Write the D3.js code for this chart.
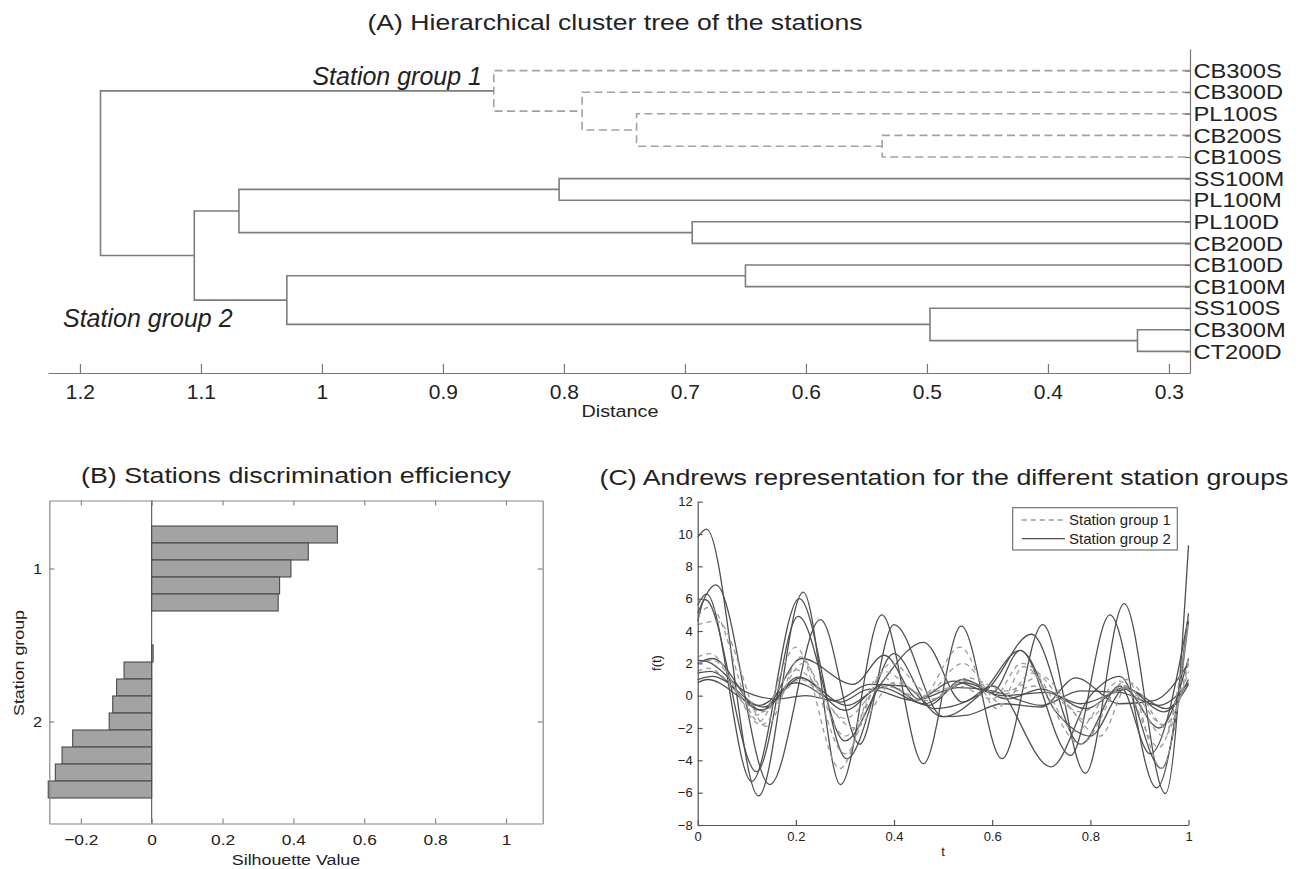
<!DOCTYPE html>
<html>
<head>
<meta charset="utf-8">
<script src="https://cdn.jsdelivr.net/npm/d3@7"></script>
<style>
  body { margin: 0; background: #fff; }
  svg { display: block; font-family: "Liberation Sans", Arial, Helvetica, sans-serif; }
</style>
</head>
<body>
<svg id="fig" width="1302" height="869"></svg>
<script>
// ---- (A) dendrogram data ----
const leafNames = ["CB300S", "CB300D", "PL100S", "CB200S", "CB100S", "SS100M", "PL100M",
    "PL100D", "CB200D", "CB100D", "CB100M", "SS100S", "CB300M", "CT200D"];
// children: leaf index (0-13) or merge id (14 + k)
const mergePairs = [[3, 4], [2, 14], [1, 15], [0, 16], [12, 13], [11, 18], [9, 10],
    [7, 8], [5, 6], [20, 19], [22, 21], [24, 23], [17, 25]];
const mergeHeights = [0.537, 0.740, 0.785, 0.858, 0.326, 0.4975, 0.650,
    0.694, 0.804, 1.029, 1.0686, 1.1055, 1.183];
const mergeGroup = [1, 1, 1, 1, 2, 2, 2, 2, 2, 2, 2, 2, 0];
const distTicks = [1.2, 1.1, 1, 0.9, 0.8, 0.7, 0.6, 0.5, 0.4, 0.3];

// ---- (B) silhouette data ----
const silGroup1 = [0.524, 0.442, 0.393, 0.361, 0.357];
const silGroup2 = [0.004, -0.078, -0.099, -0.110, -0.120, -0.223, -0.253, -0.272, -0.292];
const silTicks = [-0.2, 0, 0.2, 0.4, 0.6, 0.8, 1];
const groupNames = ["1", "2"];

// ---- (C) Andrews curves, knots [t, f(t)] ----
const andrewsGroup1 = [
    [[0, 4.9], [0.025, 5.5], [0.125, -1.6], [0.2, 3.0], [0.29, -4.5], [0.37, 1.2], [0.45, -0.3], [0.535, 3.0], [0.61, -0.8], [0.665, 1.8], [0.78, -3.0], [0.875, 1.0], [0.945, -4.5], [1, 4.9]],
    [[0, 4.4], [0.04, 4.6], [0.14, -1.9], [0.21, 2.4], [0.3, -3.6], [0.38, 1.5], [0.46, 0.0], [0.54, 2.0], [0.62, -0.5], [0.68, 1.4], [0.77, -2.2], [0.86, 0.9], [0.94, -3.2], [1, 4.4]],
    [[0, 2.4], [0.025, 2.6], [0.12, -1.2], [0.2, 1.6], [0.32, -2.0], [0.4, 0.8], [0.48, -0.2], [0.55, 1.1], [0.63, 0.3], [0.7, 1.2], [0.79, -1.5], [0.87, 0.5], [0.95, -2.5], [1, 2.3]],
    [[0, 1.5], [0.02, 1.7], [0.13, -1.0], [0.21, 1.0], [0.3, -1.4], [0.38, 0.6], [0.47, -0.3], [0.54, 0.9], [0.62, 0.1], [0.69, 0.6], [0.78, -1.0], [0.87, 0.6], [0.95, -1.8], [1, 1.5]],
    [[0, 2.0], [0.03, 2.2], [0.13, -1.8], [0.215, 2.0], [0.3, -2.5], [0.395, 2.0], [0.47, 0.2], [0.53, 0.6], [0.6, -0.2], [0.66, 2.0], [0.75, -0.5], [0.82, -2.5], [0.88, 0.8], [0.955, -2.0], [1, 2.0]]
];
const andrewsGroup2 = [
    [[0, 9.8], [0.018, 10.3], [0.124, -6.2], [0.215, 6.4], [0.291, -5.5], [0.375, 5.0], [0.46, -4.2], [0.537, 4.3], [0.62, -3.9], [0.703, 4.4], [0.79, -4.8], [0.869, 5.7], [0.953, -6.05], [1, 9.3]],
    [[0, 5.1], [0.037, 6.85], [0.147, -5.5], [0.25, 4.7], [0.33, -3.0], [0.4, 4.4], [0.5, -1.3], [0.58, 0.2], [0.657, 2.8], [0.76, -3.7], [0.84, 5.0], [0.935, -5.7], [1, 5.1]],
    [[0, 5.6], [0.018, 6.3], [0.11, -5.3], [0.207, 6.0], [0.304, -3.9], [0.4, 2.6], [0.48, -0.8], [0.59, 0.4], [0.68, 3.8], [0.78, -3.0], [0.86, 0.6], [0.922, -3.6], [1, 4.9]],
    [[0, 4.6], [0.015, 5.95], [0.12, -4.7], [0.205, 4.9], [0.3, -2.8], [0.375, 0.8], [0.46, 3.3], [0.54, -0.4], [0.6, 0.6], [0.72, -4.4], [0.8, 0.0], [0.86, 1.2], [0.945, -4.5], [1, 4.6]],
    [[0, 2.0], [0.03, 2.3], [0.13, -0.9], [0.212, 2.3], [0.317, 0.7], [0.38, 2.5], [0.45, -0.2], [0.52, 0.9], [0.6, 0.2], [0.657, 2.8], [0.73, -1.0], [0.8, -2.5], [0.87, 0.4], [0.94, -2.0], [1, 2.3]],
    [[0, 1.4], [0.025, 1.5], [0.13, -0.9], [0.21, 1.1], [0.3, -0.9], [0.38, 0.7], [0.47, -0.6], [0.54, 1.0], [0.63, -0.2], [0.7, 0.4], [0.79, -0.8], [0.87, 0.5], [0.95, -1.0], [1, 0.7]],
    [[0, 1.0], [0.03, 1.2], [0.135, -0.7], [0.205, 1.15], [0.305, -0.6], [0.375, 0.5], [0.46, -0.5], [0.545, 0.8], [0.62, 0.0], [0.71, 0.2], [0.78, -0.5], [0.875, 0.4], [0.955, -0.8], [1, 1.0]],
    [[0, 0.8], [0.02, 1.0], [0.125, -0.6], [0.2, 0.8], [0.29, -0.4], [0.35, 0.4], [0.44, -0.3], [0.53, 0.5], [0.6, 0.3], [0.7, -0.6], [0.78, 0.3], [0.86, 0.2], [0.94, -0.6], [1, 0.8]],
    [[0, 2.2], [0.02, 2.1], [0.1, 0.2], [0.16, -0.2], [0.22, 0.0], [0.28, -0.3], [0.35, 0.7], [0.42, 0.6], [0.5, -1.3], [0.55, -1.2], [0.62, -0.5], [0.7, -0.7], [0.77, 1.1], [0.86, -0.5], [0.93, -0.3], [1, 2.0]]
];
const andrewsXTicks = [0, 0.2, 0.4, 0.6, 0.8, 1];
const andrewsYTicks = [-8, -6, -4, -2, 0, 2, 4, 6, 8, 10, 12];
const legendNames = ["Station group 1", "Station group 2"];

const INK = "#222";
const svg = d3.select("#fig");
svg.append("rect").attr("width", 1302).attr("height", 869).attr("fill", "#fff");

// text helper, sx stretches glyphs horizontally like the scanned figure
function label(g, x, y, s, size, o = {}) {
    const rot = o.rot ? ` rotate(${o.rot})` : "";
    return g.append("text")
        .attr("transform", `translate(${x},${y})${rot} scale(${o.sx || 1},1)`)
        .attr("font-size", size)
        .attr("text-anchor", o.anchor || "start")
        .attr("font-style", o.italic ? "italic" : null)
        .attr("fill", INK)
        .text(s);
}

function styleAxis(ax, size, sx, col) {
    ax.select(".domain").attr("stroke", col).attr("stroke-width", 1.2);
    ax.selectAll(".tick line").attr("stroke", col).attr("stroke-width", 1.2);
    ax.selectAll(".tick text").attr("font-size", size).attr("fill", INK)
        .attr("font-family", null).attr("transform", `scale(${sx},1)`);
    ax.attr("font-family", null);
}

// ================= (A) =================
const gA = svg.append("g");
const xA = d3.scaleLinear().domain([1.2264, 0.2826]).range([48, 1190]).clamp(true);
const yA = d3.scaleLinear().domain([0, 15]).range([49, 373]);

const nodePos = leafNames.map((_, i) => i + 1);
const nodeH = leafNames.map(() => 0);
mergePairs.forEach(([a, b], k) => {
    nodePos.push((nodePos[a] + nodePos[b]) / 2);
    nodeH.push(mergeHeights[k]);
});

mergePairs.forEach(([a, b], k) => {
    const dashed = mergeGroup[k] === 1;
    gA.append("path")
        .attr("d", `M${xA(nodeH[a])},${yA(nodePos[a])}H${xA(mergeHeights[k])}V${yA(nodePos[b])}H${xA(nodeH[b])}`)
        .attr("fill", "none")
        .attr("stroke", dashed ? "#a2a2a2" : "#7e7e7e")
        .attr("stroke-width", 1.6)
        .attr("stroke-dasharray", dashed ? "8,4.5" : null);
});

const axA = gA.append("g").attr("transform", `translate(0,${yA(15)})`)
    .call(d3.axisBottom(xA).tickValues(distTicks).tickSize(-9).tickSizeOuter(0)
        .tickPadding(12).tickFormat(d3.format("")));
styleAxis(axA, 20, 1.05, "#777");

const axA2 = gA.append("g").attr("transform", `translate(${xA.range()[1]},0)`)
    .call(d3.axisRight(yA).tickValues(d3.range(1, leafNames.length + 1))
        .tickFormat(i => leafNames[i - 1]).tickSize(-5).tickSizeOuter(0).tickPadding(3));
styleAxis(axA2, 21, 1.13, "#777");

label(gA, 615, 30, "(A) Hierarchical cluster tree of the stations", 22, { anchor: "middle" })
    .attr("textLength", 495).attr("lengthAdjust", "spacingAndGlyphs");
label(gA, 620, 417, "Distance", 16.5, { anchor: "middle", sx: 1.2 });
label(gA, 482, 85, "Station group 1", 25, { anchor: "end", italic: true });
label(gA, 63, 327, "Station group 2", 25, { italic: true });

// ================= (B) =================
const gB = svg.append("g");
const xB = d3.scaleLinear().domain([-0.289, 1.1036]).range([49.3, 542.7]);
const yB = d3.scaleLinear().domain([-1, 18]).range([500.5, 823.5]);
const slotH = yB(1) - yB(0);
const gap = 2;
const bars = silGroup1.map((v, i) => ({ v, slot: i + 1 }))
    .concat(silGroup2.map((v, i) => ({ v, slot: silGroup1.length + gap + 1 + i })));
const groupSlots = [
    d3.mean(silGroup1, (_, i) => i + 1),
    d3.mean(silGroup2, (_, i) => silGroup1.length + gap + 1 + i)
];

gB.append("line").attr("x1", xB(0)).attr("x2", xB(0))
    .attr("y1", yB.range()[0]).attr("y2", yB.range()[1])
    .attr("stroke", "#444").attr("stroke-width", 1);

gB.selectAll("rect.bar").data(bars).enter().append("rect").attr("class", "bar")
    .attr("x", d => xB(Math.min(0, d.v)))
    .attr("y", d => yB(d.slot) - slotH / 2)
    .attr("width", d => Math.abs(xB(d.v) - xB(0)))
    .attr("height", slotH)
    .attr("fill", "#a3a3a3").attr("stroke", "#4a4a4a").attr("stroke-width", 1.1);

const axB1 = gB.append("g").attr("transform", `translate(0,${yB.range()[1]})`)
    .call(d3.axisBottom(xB).tickValues(silTicks).tickSize(-5).tickSizeOuter(0)
        .tickPadding(10).tickFormat(d3.format("")));
styleAxis(axB1, 15.5, 1.12, "#888");
const axB2 = gB.append("g").attr("transform", `translate(0,${yB.range()[0]})`)
    .call(d3.axisTop(xB).tickValues(silTicks).tickSize(-5).tickSizeOuter(0).tickFormat(""));
styleAxis(axB2, 15.5, 1, "#888");
const axB3 = gB.append("g").attr("transform", `translate(${xB.range()[0]},0)`)
    .call(d3.axisLeft(yB).tickValues(groupSlots).tickSize(-5).tickSizeOuter(0)
        .tickPadding(7).tickFormat((d, i) => groupNames[i]));
styleAxis(axB3, 15.5, 1.05, "#888");
const axB4 = gB.append("g").attr("transform", `translate(${xB.range()[1]},0)`)
    .call(d3.axisRight(yB).tickValues(groupSlots).tickSize(-5).tickSizeOuter(0).tickFormat(""));
styleAxis(axB4, 15.5, 1, "#888");

label(gB, 296, 483, "(B) Stations discrimination efficiency", 22, { anchor: "middle" })
    .attr("textLength", 430).attr("lengthAdjust", "spacingAndGlyphs");
label(gB, 296, 865, "Silhouette Value", 15.5, { anchor: "middle", sx: 1.15 });
label(gB, 24, 663, "Station group", 15.5, { anchor: "middle", rot: -90, sx: 1.15 });

// ================= (C) =================
const gC = svg.append("g");
const xC = d3.scaleLinear().domain([0, 1]).range([697.7, 1188.5]);
const yC = d3.scaleLinear().domain([-8, 12]).range([825, 501.7]);
const line = d3.line().x(d => xC(d[0])).y(d => yC(d[1])).curve(d3.curveMonotoneX);

gC.selectAll("path.g2").data(andrewsGroup2).enter().append("path").attr("class", "g2")
    .attr("d", line).attr("fill", "none")
    .attr("stroke", "#505050").attr("stroke-width", 1.3);
gC.selectAll("path.g1").data(andrewsGroup1).enter().append("path").attr("class", "g1")
    .attr("d", line).attr("fill", "none")
    .attr("stroke", "#9a9a9a").attr("stroke-width", 1.3).attr("stroke-dasharray", "5,4");

const axC1 = gC.append("g").attr("transform", `translate(0,${yC.range()[0]})`)
    .call(d3.axisBottom(xC).tickValues(andrewsXTicks).tickSize(-5).tickSizeOuter(0)
        .tickPadding(7).tickFormat(d3.format("")));
styleAxis(axC1, 13, 1, "#555");
const axC2 = gC.append("g").attr("transform", `translate(${xC.range()[0]},0)`)
    .call(d3.axisLeft(yC).tickValues(andrewsYTicks).tickSize(-5).tickSizeOuter(0)
        .tickPadding(5).tickFormat(d3.format("")));
styleAxis(axC2, 13, 1, "#555");

label(gC, 944, 485, "(C) Andrews representation for the different station groups", 22, { anchor: "middle" })
    .attr("textLength", 689).attr("lengthAdjust", "spacingAndGlyphs");
label(gC, 943, 856, "t", 13, { anchor: "middle" });
label(gC, 661, 663, "f(t)", 13, { anchor: "middle", rot: -90 });

// legend
const lg = gC.append("g").attr("transform", "translate(1012.7,507.7)");
lg.append("rect").attr("width", 164.6).attr("height", 42.3)
    .attr("fill", "#fff").attr("stroke", "#666").attr("stroke-width", 1.1);
legendNames.forEach((name, i) => {
    const y = 12.3 + i * 18.7;
    lg.append("line").attr("x1", 9).attr("x2", 52.3).attr("y1", y).attr("y2", y)
        .attr("stroke", i === 0 ? "#9a9a9a" : "#505050").attr("stroke-width", 1.3)
        .attr("stroke-dasharray", i === 0 ? "5,4" : null);
    label(lg, 56.3, y + 5.2, name, 15);
});
</script>
</body>
</html>
